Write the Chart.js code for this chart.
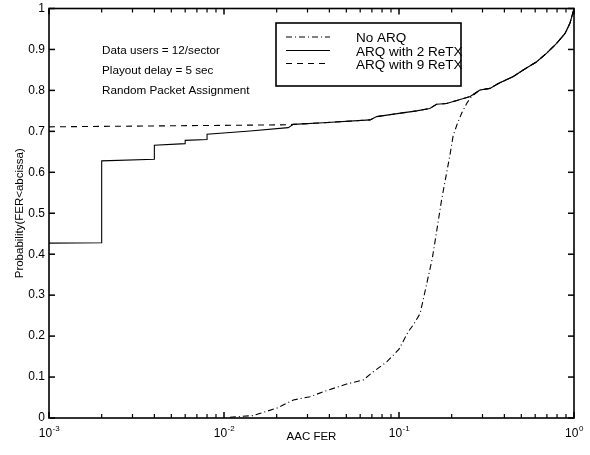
<!DOCTYPE html>
<html>
<head>
<meta charset="utf-8">
<script src="https://cdn.jsdelivr.net/npm/chart.js@4"></script>
<style>
  html, body { margin: 0; padding: 0; background: #fff; }
  #wrap { width: 590px; height: 455px; }
</style>
</head>
<body>
<div id="wrap"><canvas id="cdfChart" width="590" height="455"></canvas></div>
<script>
// AAC FER values (x) and CDF (y)
var noArqFer  = [0.0108, 0.0147, 0.020, 0.0249, 0.031, 0.0386, 0.0502, 0.0626, 0.0713, 0.0851, 0.100, 0.113, 0.121, 0.132, 0.138, 0.147, 0.155, 0.164, 0.175, 0.187, 0.196, 0.204, 0.216, 0.228, 0.245, 0.260, 0.290, 0.331, 0.370, 0.450, 0.513, 0.612, 0.698, 0.796, 0.889, 0.948, 0.995, 1.0];
var noArqProb = [0.002, 0.006, 0.024, 0.044, 0.052, 0.067, 0.083, 0.093, 0.113, 0.137, 0.168, 0.211, 0.228, 0.255, 0.292, 0.345, 0.390, 0.455, 0.532, 0.598, 0.645, 0.690, 0.720, 0.744, 0.770, 0.785, 0.801, 0.805, 0.817, 0.834, 0.850, 0.870, 0.891, 0.915, 0.939, 0.964, 0.996, 1.0];

var arq2Fer  = [0.001, 0.002, 0.002, 0.004, 0.004, 0.006, 0.006, 0.008, 0.008, 0.0141, 0.0233, 0.0249, 0.0369, 0.0683, 0.0745, 0.100, 0.126, 0.150, 0.164, 0.187, 0.255, 0.290, 0.331, 0.370, 0.450, 0.513, 0.612, 0.698, 0.796, 0.889, 0.948, 0.995, 1.0];
var arq2Prob = [0.427, 0.428, 0.628, 0.632, 0.666, 0.670, 0.678, 0.680, 0.693, 0.701, 0.709, 0.717, 0.721, 0.728, 0.736, 0.744, 0.750, 0.756, 0.766, 0.768, 0.785, 0.801, 0.805, 0.817, 0.834, 0.850, 0.870, 0.891, 0.915, 0.939, 0.964, 0.996, 1.0];

var arq9Fer  = [0.001, 0.0233, 0.0249, 0.0369, 0.0683, 0.0745, 0.100, 0.126, 0.150, 0.164, 0.187, 0.255, 0.290, 0.331, 0.370, 0.450, 0.513, 0.612, 0.698, 0.796, 0.889, 0.948, 0.995, 1.0];
var arq9Prob = [0.711, 0.716, 0.717, 0.721, 0.728, 0.736, 0.744, 0.750, 0.756, 0.766, 0.768, 0.785, 0.801, 0.805, 0.817, 0.834, 0.850, 0.870, 0.891, 0.915, 0.939, 0.964, 0.996, 1.0];

var seriesNames = ["No ARQ", "ARQ with 2 ReTX", "ARQ with 9 ReTX"];
var yTicks = [0, 0.1, 0.2, 0.3, 0.4, 0.5, 0.6, 0.7, 0.8, 0.9, 1];
var xDecades = [0.001, 0.01, 0.1, 1];
var xExponents = ["-3", "-2", "-1", "0"];
var xMinor = [0.002, 0.003, 0.004, 0.005, 0.006, 0.007, 0.008, 0.009,
              0.02, 0.03, 0.04, 0.05, 0.06, 0.07, 0.08, 0.09,
              0.2, 0.3, 0.4, 0.5, 0.6, 0.7, 0.8, 0.9];
var notes = ["Data users = 12/sector", "Playout delay = 5 sec", "Random Packet Assignment"];

var FONT = "'Liberation Sans', Arial, Helvetica, sans-serif";

function pairs(xs, ys) {
    return xs.map(function (v, i) { return { x: v, y: ys[i] }; });
}

// box, inward ticks, decade labels, notes and legend (matlab look)
var matlabFrame = {
    id: 'matlabFrame',
    afterDraw: function (chart) {
        var ctx = chart.ctx, a = chart.chartArea;
        var xs = chart.scales.x, ys = chart.scales.y;
        ctx.save();
        ctx.setLineDash([]);
        ctx.strokeStyle = '#000';
        ctx.fillStyle = '#000';

        // axes box
        ctx.lineWidth = 1.6;
        ctx.strokeRect(a.left, a.top, a.right - a.left, a.bottom - a.top);

        // inward tick marks
        yTicks.forEach(function (v) {
            var py = ys.getPixelForValue(v);
            ctx.fillRect(a.left, py - 0.75, 6, 1.5);
            ctx.fillRect(a.right - 6, py - 0.75, 6, 1.5);
        });
        xDecades.forEach(function (v) {
            var px = xs.getPixelForValue(v);
            ctx.fillRect(px - 0.75, a.bottom - 6, 1.5, 6);
            ctx.fillRect(px - 0.75, a.top, 1.5, 6);
        });
        xMinor.forEach(function (v) {
            var px = xs.getPixelForValue(v);
            ctx.fillRect(px - 0.6, a.bottom - 4, 1.2, 4);
            ctx.fillRect(px - 0.6, a.top, 1.2, 4);
        });

        // x decade labels 10^n
        ctx.textBaseline = 'alphabetic';
        ctx.textAlign = 'left';
        xDecades.forEach(function (v, i) {
            var px = xs.getPixelForValue(v);
            ctx.font = '12px ' + FONT;
            var wBase = ctx.measureText('10').width;
            ctx.font = '8px ' + FONT;
            var wExp = ctx.measureText(xExponents[i]).width;
            var x0 = px - (wBase + wExp) / 2;
            ctx.font = '12px ' + FONT;
            ctx.fillText('10', x0, 437);
            ctx.font = '8px ' + FONT;
            ctx.fillText(xExponents[i], x0 + wBase + 0.5, 431);
        });

        // annotation text
        ctx.font = '11.7px ' + FONT;
        ctx.textBaseline = 'middle';
        notes.forEach(function (s, i) {
            ctx.fillText(s, 102, 51 + i * 20);
        });

        // legend
        ctx.fillStyle = '#fff';
        ctx.fillRect(276, 23, 185, 63);
        ctx.lineWidth = 1.6;
        ctx.strokeRect(276, 23, 185, 63);
        ctx.fillStyle = '#000';
        ctx.font = '13.5px ' + FONT;
        ctx.lineWidth = 1;
        var lineY = [37, 50.5, 63.5];
        chart.data.datasets.forEach(function (ds, i) {
            ctx.setLineDash(ds.borderDash || []);
            ctx.beginPath();
            ctx.moveTo(286, lineY[i]); ctx.lineTo(330, lineY[i]);
            ctx.stroke();
            ctx.fillText(ds.label, 356, lineY[i] + 1.5);
        });
        ctx.restore();
    }
};

var cdfCtx = document.getElementById("cdfChart").getContext('2d');
var cdfChart = new Chart(cdfCtx, {
    type: 'line',
    data: {
        datasets: [{
            label: seriesNames[0],
            data: pairs(noArqFer, noArqProb),
            borderColor: '#000',
            borderWidth: 1.1,
            borderDash: [6, 3, 1, 3],
            pointRadius: 0,
            tension: 0,
            fill: false
        }, {
            label: seriesNames[1],
            data: pairs(arq2Fer, arq2Prob),
            borderColor: '#000',
            borderWidth: 1.1,
            pointRadius: 0,
            tension: 0,
            fill: false
        }, {
            label: seriesNames[2],
            data: pairs(arq9Fer, arq9Prob),
            borderColor: '#000',
            borderWidth: 1.1,
            borderDash: [6, 5],
            pointRadius: 0,
            tension: 0,
            fill: false
        }]
    },
    options: {
        responsive: false,
        animation: false,
        layout: { padding: { top: 8.5, right: 16, left: 0, bottom: 0 } },
        plugins: {
            legend: { display: false },
            tooltip: { enabled: false }
        },
        scales: {
            x: {
                type: 'logarithmic',
                min: 0.001,
                max: 1,
                grid: { display: false, drawTicks: false },
                border: { display: false },
                ticks: { display: false, autoSkip: false },
                title: {
                    display: true,
                    text: 'AAC FER',
                    color: '#000',
                    font: { family: FONT, size: 11.5 },
                    padding: { top: 0, bottom: 11 }
                },
                afterFit: function (s) { s.height = 37; s.paddingLeft = 0; s.paddingRight = 0; }
            },
            y: {
                min: 0,
                max: 1,
                grid: { display: false, drawTicks: false },
                border: { display: false },
                afterBuildTicks: function (s) {
                    s.ticks = yTicks.map(function (v) { return { value: v }; });
                },
                ticks: {
                    padding: 4,
                    color: '#000',
                    font: { family: FONT, size: 12 },
                    callback: function (v) { return String(v); }
                },
                title: {
                    display: true,
                    text: 'Probability(FER<abcissa)',
                    color: '#000',
                    font: { family: FONT, size: 11.5 },
                    padding: { top: 13, bottom: 0 }
                },
                afterFit: function (s) { s.width = 49; s.paddingTop = 0; s.paddingBottom = 0; }
            }
        }
    },
    plugins: [matlabFrame]
});
</script>
</body>
</html>
